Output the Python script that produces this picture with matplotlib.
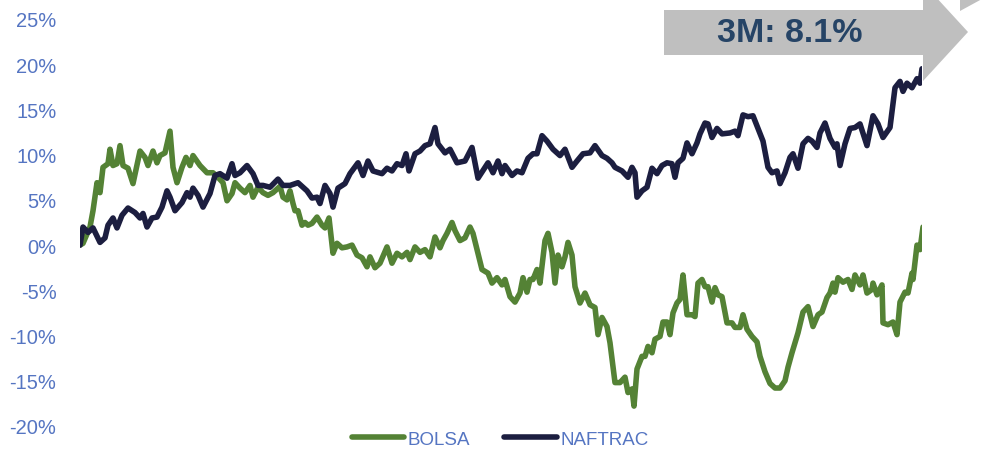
import matplotlib.pyplot as plt
from matplotlib.patches import Polygon
from matplotlib.ticker import FuncFormatter

# session position (x) and cumulative return (%) for each series
naftrac_x = [80, 83, 88, 93, 100, 105, 108, 113, 117, 122, 128, 135, 140, 143, 147, 152, 157, 162, 167, 170,
             175, 182, 187, 190, 193, 198, 203, 210, 215, 220, 227, 232, 235, 240, 247, 253, 258, 263, 270, 278,
             283, 290, 298, 307, 312, 317, 320, 325, 330, 333, 338, 345, 350, 358, 363, 368, 373, 382, 387, 392,
             397, 402, 406, 409, 415, 420, 425, 430, 435, 438, 445, 450, 457, 465, 472, 478, 485, 488, 493, 498,
             502, 505, 512, 517, 522, 528, 533, 537, 542, 547, 553, 560, 565, 572, 577, 583, 590, 595, 602, 607,
             612, 615, 622, 628, 632, 635, 637, 642, 647, 652, 657, 662, 667, 672, 675, 678, 683, 687, 692, 697,
             700, 705, 708, 712, 717, 722, 730, 735, 738, 743, 748, 753, 758, 763, 768, 772, 777, 780, 785, 790,
             793, 798, 803, 808, 812, 817, 820, 825, 830, 835, 837, 840, 845, 850, 855, 860, 867, 873, 878, 883,
             890, 895, 900, 903, 907, 912, 917, 920, 922]
naftrac = [0.0, 2.0, 1.4, 1.9, 0.3, 0.8, 2.2, 3.0, 1.9, 3.3, 4.1, 3.6, 3.0, 3.5, 2.0, 3.0, 3.1, 4.2, 6.0, 5.3,
           3.8, 4.7, 5.8, 5.3, 6.3, 5.5, 4.2, 5.7, 7.7, 7.9, 7.4, 9.0, 7.7, 8.0, 8.8, 7.9, 6.6, 6.6, 6.4, 7.3,
           6.6, 6.6, 6.9, 6.0, 5.2, 5.3, 4.6, 6.6, 5.7, 4.2, 6.3, 6.8, 7.9, 9.1, 7.7, 9.3, 8.2, 7.9, 8.5, 8.2,
           9.0, 8.8, 10.1, 8.2, 10.1, 10.4, 11.0, 11.2, 13.0, 11.2, 10.2, 10.6, 9.1, 9.3, 10.8, 7.4, 8.6, 9.1, 8.0, 9.3,
           7.9, 8.8, 7.7, 8.2, 8.0, 9.6, 10.1, 10.1, 12.1, 11.5, 10.6, 9.9, 10.6, 8.6, 9.3, 10.1, 10.2, 11.0, 9.9, 9.6,
           9.1, 8.6, 8.2, 7.5, 8.6, 8.0, 5.3, 6.0, 6.4, 8.5, 7.9, 8.8, 9.1, 9.0, 7.5, 9.1, 9.6, 11.3, 10.1, 11.3,
           12.3, 13.5, 13.4, 11.9, 12.9, 12.3, 12.4, 12.6, 12.1, 14.4, 14.2, 14.3, 12.9, 11.5, 8.6, 8.0, 8.2, 6.8, 8.0, 9.7,
           10.1, 8.5, 11.2, 11.8, 11.5, 10.8, 12.4, 13.5, 11.8, 10.8, 11.2, 8.8, 11.2, 12.9, 13.0, 13.4, 11.0, 14.3, 13.4, 11.9,
           13.0, 17.4, 18.1, 17.0, 17.9, 17.4, 18.4, 17.9, 19.5]

bolsa_x = [80, 83, 90, 93, 97, 100, 103, 108, 110, 113, 117, 120, 123, 128, 133, 140, 145, 148, 153, 157,
           160, 165, 170, 173, 177, 182, 186, 190, 193, 200, 207, 213, 218, 223, 227, 232, 235, 240, 245, 250,
           253, 258, 263, 268, 273, 280, 283, 287, 290, 293, 295, 298, 302, 305, 308, 312, 317, 322, 325, 329,
           333, 337, 342, 347, 352, 357, 362, 367, 370, 375, 380, 387, 392, 397, 402, 407, 410, 415, 420, 425,
           430, 435, 440, 443, 447, 452, 455, 460, 465, 470, 473, 478, 482, 488, 492, 497, 502, 505, 510, 515,
           520, 523, 527, 530, 533, 537, 540, 545, 548, 552, 555, 558, 562, 565, 568, 572, 575, 580, 585, 590,
           595, 598, 602, 607, 610, 615, 620, 625, 628, 632, 634, 637, 642, 645, 648, 652, 655, 660, 663, 667,
           670, 673, 677, 680, 683, 687, 692, 695, 698, 702, 705, 708, 712, 715, 718, 722, 727, 732, 735, 740,
           743, 747, 752, 757, 760, 765, 770, 775, 780, 785, 788, 792, 798, 803, 808, 813, 818, 822, 827, 830,
           833, 835, 838, 843, 848, 852, 855, 860, 863, 867, 872, 873, 877, 882, 883, 888, 893, 897, 900, 905,
           908, 912, 913, 917, 920, 923]
bolsa = [0.0, 0.2, 2.0, 3.8, 6.9, 5.8, 8.6, 9.0, 10.6, 8.8, 9.0, 11.0, 8.8, 8.5, 6.8, 10.4, 9.7, 8.8, 10.4, 9.1,
         9.9, 10.2, 12.6, 8.6, 6.9, 8.6, 9.7, 8.8, 9.9, 8.8, 8.0, 8.0, 7.5, 6.9, 4.9, 5.7, 6.9, 6.3, 5.8, 6.6,
         5.3, 6.4, 5.8, 5.5, 5.8, 6.5, 5.3, 5.0, 6.0, 4.6, 3.8, 3.8, 2.2, 2.5, 2.2, 2.4, 3.1, 2.2, 1.9, 3.0,
         -0.9, 0.2, -0.3, -0.2, 0.0, -1.1, -1.4, -2.4, -1.3, -2.5, -2.0, -0.2, -2.0, -0.9, -1.3, -0.8, -1.6, -0.2, -0.8, -0.5,
         -1.3, 0.9, -0.3, 0.5, 1.3, 2.5, 1.6, 0.5, 0.8, 2.0, 1.3, -0.9, -2.7, -3.1, -4.2, -3.6, -4.4, -3.8, -5.7, -6.3,
         -5.3, -3.6, -5.2, -3.8, -3.8, -2.7, -4.2, 0.5, 1.3, -0.8, -4.2, -1.1, -2.4, -1.3, 0.3, -1.1, -4.6, -6.4, -5.3, -6.6,
         -6.9, -9.9, -8.0, -9.0, -10.8, -15.2, -15.2, -14.6, -16.3, -15.9, -17.8, -13.7, -12.3, -12.3, -11.2, -11.9, -10.4, -10.1, -8.5, -8.5,
         -9.9, -7.5, -6.4, -6.0, -3.3, -7.7, -7.7, -7.9, -4.2, -3.8, -4.6, -4.6, -6.3, -4.7, -5.5, -5.7, -8.6, -8.6, -9.1, -9.1,
         -7.7, -9.3, -10.1, -10.7, -12.3, -14.0, -15.3, -15.8, -15.8, -15.0, -13.5, -11.9, -9.7, -7.4, -6.8, -9.0, -7.7, -7.4, -5.8, -5.3,
         -4.2, -5.2, -3.6, -4.1, -3.8, -4.9, -3.3, -4.4, -3.3, -5.3, -4.9, -4.2, -5.5, -4.4, -8.6, -8.8, -8.5, -9.9, -6.3, -5.2,
         -5.3, -3.1, -3.8, 0.0, -0.5, 2.0]

yticks = [-20, -15, -10, -5, 0, 5, 10, 15, 20, 25]
badge_text = '3M: 8.1%'

plt.rcParams['font.family'] = ['Liberation Sans', 'DejaVu Sans']

fig = plt.figure(figsize=(9.86, 4.56), dpi=100)
ax = fig.add_axes([80 / 986, 29 / 456, 842 / 986, 407 / 456])

ax.plot(bolsa_x, bolsa, color='#548235', lw=4.0, label='BOLSA', solid_capstyle='round', solid_joinstyle='round')
ax.plot(naftrac_x, naftrac, color='#1c1e40', lw=4.0, label='NAFTRAC', solid_capstyle='round', solid_joinstyle='round')

ax.set_xlim(80, 922)
ax.set_ylim(-20, 25)
ax.set_yticks(yticks)
ax.yaxis.set_major_formatter(FuncFormatter(lambda v, p: '%d%%' % v))
ax.set_xticks([])
ax.tick_params(axis='y', length=0, pad=17, labelsize=14.5, labelcolor='#5575c2')
for s in ax.spines.values():
    s.set_visible(False)
ax.patch.set_alpha(0)

leg = fig.legend(loc='center', bbox_to_anchor=(500 / 986, 1 - 440 / 456), ncol=2, frameon=False,
                 fontsize=13.5, handlelength=2.8, handletextpad=0.2, columnspacing=1.8)
for txt in leg.get_texts():
    txt.set_color('#5575c2')

# gray arrow badge (pixel coords -> figure fraction)
def fx(px, py):
    return (px / 986, 1 - py / 456)

arrow_px = [(664, 11), (923, 11), (923, -16), (968, 33), (923, 82), (923, 56), (664, 56)]
fig.patches.append(Polygon([fx(*p) for p in arrow_px], closed=True, transform=fig.transFigure,
                           facecolor='#bfbfbf', edgecolor='none', zorder=3))
corner_px = [(960, 0), (982, 0), (960, 12)]
fig.patches.append(Polygon([fx(*p) for p in corner_px], closed=True, transform=fig.transFigure,
                           facecolor='#bfbfbf', edgecolor='none', zorder=3))
fig.text(790 / 986, 1 - 34 / 456, badge_text, ha='center', va='center', fontsize=24.5,
         fontweight='bold', color='#264466', zorder=4)

fig.savefig('out.png', dpi=100)
